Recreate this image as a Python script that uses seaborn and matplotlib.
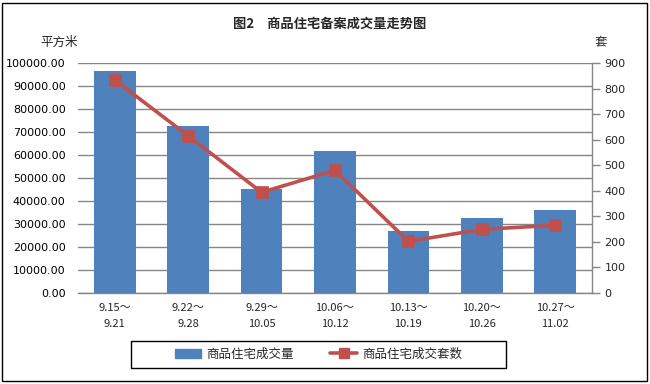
import matplotlib
matplotlib.use("Agg")
import matplotlib.pyplot as plt
import seaborn as sns
import pandas as pd
import numpy as np
from matplotlib.patches import Patch, Rectangle
from matplotlib.lines import Line2D

# ---- data ----
weeks = ["9.15～\n9.21", "9.22～\n9.28", "9.29～\n10.05", "10.06～\n10.12",
         "10.13～\n10.19", "10.20～\n10.26", "10.27～\n11.02"]
area = [96600, 72600, 45300, 61700, 27000, 32700, 36100]      # 平方米
units = [834, 615, 394, 480, 202, 249, 265]                   # 套
left_ticks = [0, 10000, 20000, 30000, 40000, 50000, 60000, 70000, 80000, 90000, 100000]
right_ticks = [0, 100, 200, 300, 400, 500, 600, 700, 800, 900]
title = "图2　商品住宅备案成交量走势图"
left_unit = "平方米"
right_unit = "套"
bar_label = "商品住宅成交量"
line_label = "商品住宅成交套数"

df = pd.DataFrame({"week": weeks, "area": area, "units": units})

sns.set_theme(style="white")
plt.rcParams["font.family"] = ["Noto Sans CJK SC", "DejaVu Sans"]

BAR = "#4F81BD"
LINE = "#C0504D"
GRID = "#868686"
FS = 8
CJK_FS = 9

fig = plt.figure(figsize=(6.5, 3.84), dpi=100)
ax = fig.add_axes([78/650, 1 - 293/384, (592 - 78)/650, (293 - 63)/384])

sns.barplot(data=df, x="week", y="area", color=BAR, saturation=1,
            width=0.57, ax=ax, zorder=2, linewidth=0)
ax.set_ylim(0, 100000)
ax.set_yticks(left_ticks)
ax.set_yticklabels([f"{v:.2f}" for v in left_ticks], fontsize=FS, family="DejaVu Sans")
ax.yaxis.grid(True, color=GRID, linewidth=1)
ax.set_axisbelow(True)
ax.set_xlabel("")
ax.set_ylabel("")
for s in ["left", "top", "right"]:
    ax.spines[s].set_visible(False)
ax.spines["bottom"].set_color(GRID)
ax.spines["bottom"].set_linewidth(1)
ax.tick_params(axis="y", length=0, pad=9, colors="black")
ax.tick_params(axis="x", length=0, pad=7, labelsize=FS)
for t in ax.get_xticklabels():
    t.set_linespacing(1.75)

ax2 = ax.twinx()
sns.pointplot(data=df, x="week", y="units", color=LINE, markers="s",
              markersize=7, linewidth=2.6, ax=ax2, zorder=5)
ax2.set_ylim(0, 900)
ax2.set_yticks(right_ticks)
ax2.set_yticklabels([str(v) for v in right_ticks], fontsize=FS, family="DejaVu Sans")
ax2.set_xlim(-0.5, len(weeks) - 0.5)
ax.set_xlim(-0.5, len(weeks) - 0.5)
ax2.set_xlabel("")
ax2.set_ylabel("")
for s in ["left", "top", "bottom"]:
    ax2.spines[s].set_visible(False)
ax2.spines["right"].set_visible(True)
ax2.spines["right"].set_color(GRID)
ax2.spines["right"].set_linewidth(1)
ax2.tick_params(axis="y", length=6, width=1, color=GRID, pad=3, direction="out", right=True)
ax2.grid(False)

fig.text(330/650, 1 - 24/384, title, ha="center", va="center",
         fontsize=9.5, fontweight="bold")
fig.text(59/650, 1 - 42/384, left_unit, ha="center", va="center", fontsize=CJK_FS)
fig.text(601/650, 1 - 42/384, right_unit, ha="center", va="center", fontsize=CJK_FS)

handles = [Patch(facecolor=BAR, edgecolor=BAR),
           Line2D([0], [0], color=LINE, linewidth=2.6, marker="s", markersize=7)]
leg = fig.legend(handles, [bar_label, line_label], loc="center",
                 bbox_to_anchor=(318.5/650, 1 - 354.5/384), ncol=2,
                 fontsize=CJK_FS, frameon=False,
                 handlelength=2.1, handleheight=0.8, columnspacing=2.9,
                 handletextpad=0.45)
fig.patches.append(Rectangle((131/650, 1 - 368/384), (506 - 131)/650, 27/384,
                             transform=fig.transFigure, fill=False,
                             edgecolor="black", linewidth=1))

fig.patches.append(Rectangle((2/650, 3/384), 645/650, 378/384, transform=fig.transFigure,
                             fill=False, edgecolor="black", linewidth=1))

fig.savefig("out.png", dpi=100)
